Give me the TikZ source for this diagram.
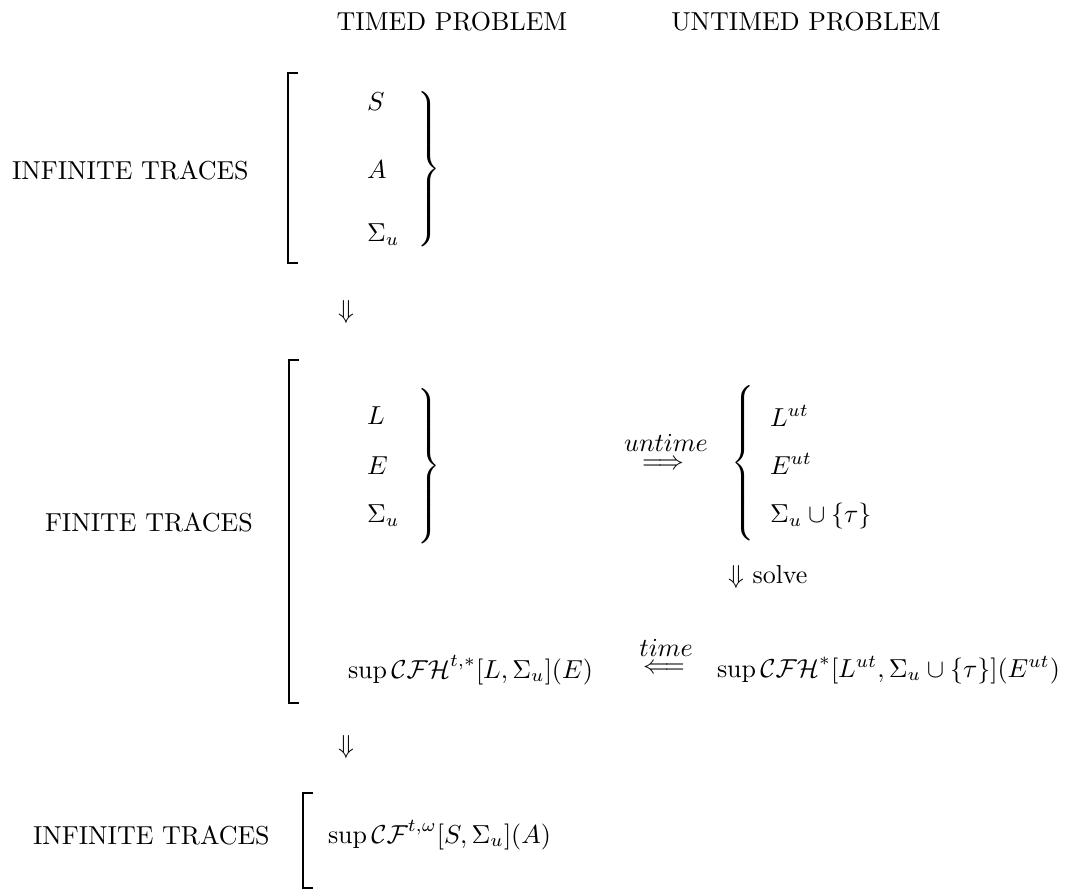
\documentclass[tikz,border=0pt]{standalone}
\usepackage{amsmath}
\newcommand\mybraceR[1]{$\delimitershortfall=0pt\delimiterfactor=1000\left.\vcenter{\hrule height #1 width 0pt}\right\}$}
\newcommand\mybraceL[1]{$\delimitershortfall=0pt\delimiterfactor=1000\left\{\vcenter{\hrule height #1 width 0pt}\right.$}
\begin{document}
\begin{tikzpicture}[x=0.385pt,y=-0.385pt,
  every node/.style={inner sep=0pt, outer sep=0pt},
  lbl/.style={anchor=west},
  brk/.style={line width=1pt, line cap=rect}]
\useasboundingbox (0,0) rectangle (1086,890);
% headers
\node (timed) at (452,22) {TIMED PROBLEM};
\node (untimed) at (806,22) {UNTIMED PROBLEM};
% block 1
\node[lbl] (inf1) at (12,170) {INFINITE TRACES};
\draw[brk] (297,73) -- (288,73) -- (288,263) -- (297,263);
\node[lbl] (S1) at (367,102) {$S$};
\node[lbl] (A1) at (367,170) {$A$};
\node[lbl] (Su1) at (367,235) {$\Sigma_u$};
\node[anchor=east] (br1) at (441,169) {\mybraceR{60pt}};
\node (d1) at (346,312) {$\Downarrow$};
% block 2
\node[lbl] (fin) at (45,522) {FINITE TRACES};
\draw[brk] (298,360) -- (289,360) -- (289,703) -- (298,703);
\node[lbl] (L) at (367,416) {$L$};
\node[lbl] (E) at (367,466) {$E$};
\node[lbl] (Su2) at (367,516) {$\Sigma_u$};
\node[anchor=east] (br2) at (441,466) {\mybraceR{56pt}};
\node (untimelbl) at (666,443) {$untime$};
\node (untimearr) at (663,465) {$\Longrightarrow$};
\node[anchor=west] (br3) at (731,463) {\mybraceL{59pt}};
\node[lbl] (Lut) at (770,416) {$L^{ut}$};
\node[lbl] (Eut) at (770,464) {$E^{ut}$};
\node[lbl] (Suu) at (770,516) {$\Sigma_u\cup\{\tau\}$};
\node[lbl] (solve) at (728,577) {$\Downarrow$ solve};
\node[lbl] (supu) at (717,670) {$\sup\mathcal{CFH}^{*}[L^{ut},\Sigma_u\cup\{\tau\}](E^{ut})$};
\node[lbl] (supt) at (348,670) {$\sup\mathcal{CFH}^{t,*}[L,\Sigma_u](E)$};
\node (timelbl) at (666,648) {$time$};
\node (timearr) at (664,669) {$\Longleftarrow$};
\node (d2) at (346,747) {$\Downarrow$};
% block 3
\node[lbl] (inf2) at (33,835) {INFINITE TRACES};
\draw[brk] (312,793) -- (303,793) -- (303,888) -- (312,888);
\node[lbl] (supw) at (328,835) {$\sup\mathcal{CF}^{t,\omega}[S,\Sigma_u](A)$};
\end{tikzpicture}
\end{document}
